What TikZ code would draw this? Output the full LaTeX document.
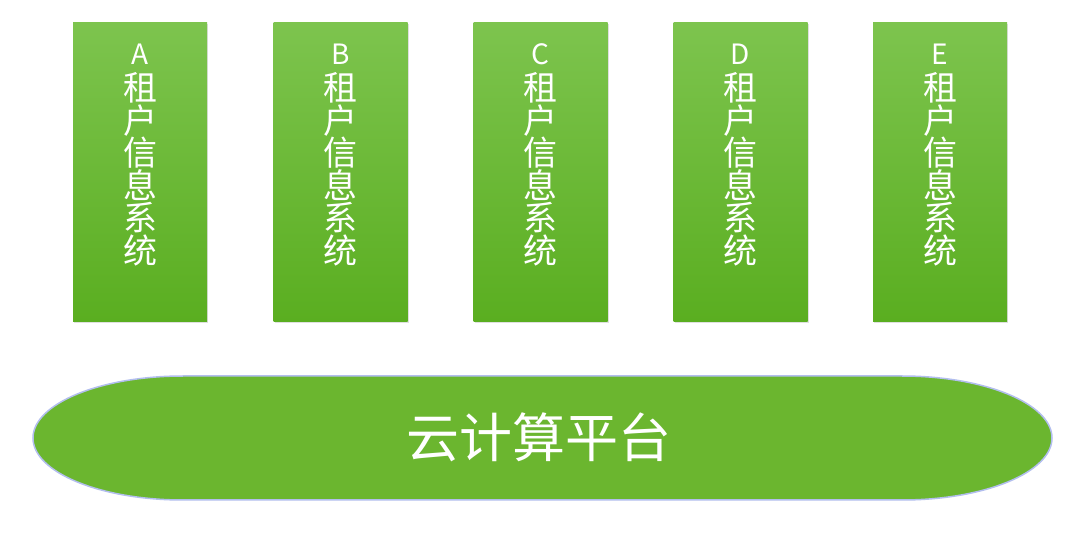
\documentclass[tikz,border=0pt]{standalone}
\usepackage{fontspec}
\newfontfamily\cjk{Noto Sans CJK SC}
\usetikzlibrary{shadows}
\definecolor{gtop}{HTML}{7DC44E}
\definecolor{gbot}{HTML}{5AAE20}
\definecolor{plat}{HTML}{6BB62F}
\definecolor{platline}{HTML}{B2BEEE}
\tikzset{
  tenant/.style={rectangle, minimum width=134pt, minimum height=299pt, inner sep=0pt,
    top color=gtop, bottom color=gbot, draw=none,
    drop shadow={shadow xshift=1pt, shadow yshift=-1.5pt, opacity=0.25}},
  letterlbl/.style={anchor=base, text=white, inner sep=0pt, font=\cjk\fontsize{28}{30}\selectfont},
  charlbl/.style={anchor=base, text=white, inner sep=0pt, font=\cjk\fontsize{34}{36}\selectfont},
}
\begin{document}
\begin{tikzpicture}[x=1pt,y=1pt]
\useasboundingbox (0,0) rectangle (1080,536);
\fill[white] (0,0) rectangle (1080,536);
\foreach \n/\l/\x in {a/A/140, b/B/340.5, c/C/540.5, d/D/740.5, e/E/940}{
  \node[tenant] (box\n) at (\x,363.5) {};
  \node[letterlbl] (let\n) at (\x,471) {\l};
  \foreach \ch [count=\i from 0] in {租,户,信,息,系,统}{
    \node[charlbl] (ch\n\i) at (\x,{435.5-32.6*\i}) {\ch};
  }
}
\path[fill=plat, draw=platline, line width=1.5pt]
  (183,160) arc[start angle=90, end angle=270, x radius=150, y radius=62]
  -- (902,36) arc[start angle=-90, end angle=90, x radius=150, y radius=62] -- cycle;
\node[anchor=base, text=white, font=\cjk\fontsize{53}{56}\selectfont, inner sep=0pt] (plattext) at (538.5,78.5) {云计算平台};
\end{tikzpicture}
\end{document}
